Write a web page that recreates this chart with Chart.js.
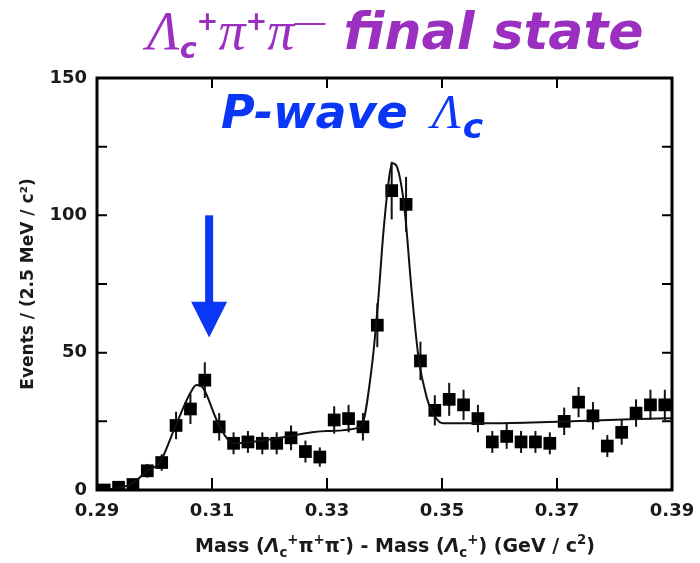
<!DOCTYPE html>
<html>
<head>
<meta charset="utf-8">
<script src="https://cdn.jsdelivr.net/npm/chart.js@4.4.1/dist/chart.umd.min.js"></script>
<style>
  body { margin: 0; background: #fff; }
  #wrap { position: relative; width: 700px; height: 563px; }
  #myChart { position: absolute; left: 0; top: 0; }
  .ttl { position: absolute; white-space: nowrap; font-family: "DejaVu Sans", sans-serif; font-weight: bold; font-style: italic; line-height: 1; }
  .gr { font-family: "Liberation Serif", serif; font-style: italic; font-weight: normal; }
  .ttl sub, .ttl sup { line-height: 0; }
  #title1 { left: 147px; top: 4px; font-size: 52px; color: #9b30c0; }
  #title1 .gr { font-size: 54px; }
  #title1 sub { font-size: 0.55em; vertical-align: -0.3em; }
  #title1 sup { font-size: 0.5em; vertical-align: 0.75em; font-style: normal; }
  #title1 .mn { font-family: "Liberation Sans", sans-serif; font-weight: normal; font-size: 0.6em; vertical-align: 0.55em; }
  #title2 { left: 221px; top: 88px; font-size: 46px; color: #0a36f5; }
  #title2 .gr { font-size: 48px; margin-left: 24px; }
  #title2 sub { font-size: 0.75em; vertical-align: -0.3em; margin-left: 2px; }
  #xtitle { position: absolute; top: 536px; left: 395px; transform: translateX(-50%); line-height: 1;
            font-family: "DejaVu Sans", sans-serif; font-weight: bold; font-size: 19px; color: #1a1a1a; white-space: nowrap; }
  #xtitle sub, #xtitle sup { line-height: 0; font-size: 0.7em; }
  #xtitle sub { vertical-align: -0.35em; }
  #xtitle sup { vertical-align: 0.6em; }
</style>
</head>
<body>
<div id="wrap">
  <canvas id="myChart" width="700" height="563"></canvas>
  <div id="title1" class="ttl"><span class="gr">Λ</span><sub>c</sub><sup>+</sup><span class="gr">π</span><sup>+</sup><span class="gr">π</span><span class="mn">—</span>&nbsp;final state</div>
  <div id="title2" class="ttl">P-wave<span class="gr">Λ</span><sub>c</sub></div>
  <div id="xtitle">Mass (<i>Λ</i><sub>c</sub><sup>+</sup>π<sup>+</sup>π<sup>-</sup>) - Mass (<i>Λ</i><sub>c</sub><sup>+</sup>) (GeV / c<sup>2</sup>)</div>
</div>
<script>
const ctx = document.getElementById('myChart').getContext('2d');

// bin centres (GeV/c^2), 2.5 MeV bins
const binMass = [0.29125, 0.29375, 0.29625, 0.29875, 0.30125, 0.30375, 0.30625, 0.30875, 0.31125, 0.31375,
                 0.31625, 0.31875, 0.32125, 0.32375, 0.32625, 0.32875, 0.33125, 0.33375, 0.33625, 0.33875,
                 0.34125, 0.34375, 0.34625, 0.34875, 0.35125, 0.35375, 0.35625, 0.35875, 0.36125, 0.36375,
                 0.36625, 0.36875, 0.37125, 0.37375, 0.37625, 0.37875, 0.38125, 0.38375, 0.38625, 0.38875];
const events = [0, 1, 2, 7, 10, 23.5, 29.5, 40, 23, 17,
                17.5, 17, 17, 19, 14, 12, 25.5, 26, 23, 60,
                109, 104, 47, 29, 33, 31, 26, 17.5, 19.5, 17.5,
                17.5, 17, 25, 32, 27, 16, 21, 28, 31, 31];
const errors = [1, 1, 1.5, 2.5, 3, 5, 5.5, 6.5, 5, 4,
                4, 4, 4, 4.5, 4, 3.5, 5, 5, 5, 8,
                10.5, 10, 7, 5.5, 6, 5.5, 5, 4, 4.5, 4,
                4, 4, 5, 5.5, 5, 4, 4.5, 5, 5.5, 5.5];

// fit curve
const fitMass = [0.29, 0.2934, 0.2960, 0.2986, 0.3010, 0.3036, 0.3062, 0.3073, 0.3085, 0.3108,
                 0.3126, 0.3137, 0.3200, 0.3300, 0.3359, 0.3378, 0.3389, 0.3398, 0.3407, 0.3413,
                 0.3421, 0.3430, 0.3436, 0.3447, 0.3459, 0.3473, 0.3488, 0.3502, 0.3595, 0.3711,
                 0.3827, 0.39];
const fitValue = [0, 0.6, 2.2, 6.7, 10.3, 23, 35.2, 38.2, 37, 25.5,
                  18.8, 17, 18.4, 21.5, 23, 45, 69, 93.6, 112, 119,
                  118, 110, 100, 73, 48.5, 34, 26.7, 24.3, 24.3, 24.9,
                  25.8, 26.1];

const xTicks = [0.29, 0.31, 0.33, 0.35, 0.37, 0.39];
const yTicks = [0, 50, 100, 150];
const yMinorTicks = [25, 75, 125];

// arrow marking the P-wave state
const arrowMass = 0.3095;
const arrowTop = 100;
const arrowHeadStart = 68.5;
const arrowTip = 55.5;

const frameAndMarks = {
    id: 'frameAndMarks',
    beforeDatasetsDraw(chart) {
        // error bars
        const c = chart.ctx, xs = chart.scales.x, ys = chart.scales.y;
        c.save();
        c.strokeStyle = '#111';
        c.lineWidth = 2;
        binMass.forEach((m, i) => {
            const px = xs.getPixelForValue(m);
            c.beginPath();
            c.moveTo(px, ys.getPixelForValue(Math.max(0, events[i] - errors[i])));
            c.lineTo(px, ys.getPixelForValue(events[i] + errors[i]));
            c.stroke();
        });
        c.restore();
    },
    afterDraw(chart) {
        const c = chart.ctx, a = chart.chartArea, xs = chart.scales.x, ys = chart.scales.y;
        c.save();
        c.strokeStyle = '#000';
        c.lineWidth = 3;
        c.strokeRect(a.left, a.top, a.right - a.left, a.bottom - a.top);
        c.lineWidth = 2;
        c.beginPath();
        xTicks.slice(1, -1).forEach(v => {
            const px = xs.getPixelForValue(v);
            c.moveTo(px, a.bottom); c.lineTo(px, a.bottom - 12);
            c.moveTo(px, a.top); c.lineTo(px, a.top + 10);
        });
        yTicks.slice(1, -1).concat(yMinorTicks).forEach(v => {
            const py = ys.getPixelForValue(v);
            c.moveTo(a.left, py); c.lineTo(a.left + 10, py);
            c.moveTo(a.right, py); c.lineTo(a.right - 10, py);
        });
        c.stroke();

        // arrow
        const ax = xs.getPixelForValue(arrowMass);
        const yTop = ys.getPixelForValue(arrowTop);
        const yHead = ys.getPixelForValue(arrowHeadStart);
        const yTip = ys.getPixelForValue(arrowTip);
        c.fillStyle = '#0a36f5';
        c.fillRect(ax - 4, yTop, 8, yHead - yTop + 1);
        c.beginPath();
        c.moveTo(ax - 18, yHead);
        c.lineTo(ax + 18, yHead);
        c.lineTo(ax, yTip);
        c.closePath();
        c.fill();
        c.restore();
    }
};

const myChart = new Chart(ctx, {
    type: 'scatter',
    data: {
        datasets: [{
            label: 'Fit',
            type: 'line',
            data: fitMass.map((m, i) => ({ x: m, y: fitValue[i] })),
            borderColor: '#111',
            borderWidth: 2,
            pointRadius: 0,
            cubicInterpolationMode: 'monotone',
            fill: false
        }, {
            label: 'Data',
            data: binMass.map((m, i) => ({ x: m, y: events[i] })),
            pointStyle: 'rect',
            pointRadius: 9,
            backgroundColor: '#000',
            borderColor: '#000',
            borderWidth: 0
        }]
    },
    options: {
        responsive: false,
        animation: false,
        layout: { padding: { left: 0, top: 78, right: 28, bottom: 0 } },
        plugins: {
            legend: { display: false },
            tooltip: { enabled: false }
        },
        scales: {
            x: {
                type: 'linear',
                min: 0.29,
                max: 0.39,
                afterBuildTicks: s => { s.ticks = xTicks.map(v => ({ value: v })); },
                afterFit: s => { s.height = 73; s.paddingLeft = 0; s.paddingRight = 0; },
                grid: { display: false, drawTicks: false },
                border: { display: false },
                ticks: {
                    padding: 11,
                    color: '#1a1a1a',
                    font: { family: 'DejaVu Sans', size: 18, weight: 'bold' },
                    callback: v => v.toFixed(2)
                }
            },
            y: {
                min: 0,
                max: 150,
                afterBuildTicks: s => { s.ticks = yTicks.map(v => ({ value: v })); },
                afterFit: s => { s.width = 97; s.paddingTop = 0; s.paddingBottom = 0; },
                grid: { display: false, drawTicks: false },
                border: { display: false },
                ticks: {
                    padding: 10,
                    color: '#1a1a1a',
                    font: { family: 'DejaVu Sans', size: 18, weight: 'bold' }
                },
                title: {
                    display: true,
                    text: 'Events / (2.5 MeV / c²)',
                    color: '#1a1a1a',
                    padding: { top: 18, bottom: 0 },
                    font: { family: 'DejaVu Sans', size: 17, weight: 'bold' }
                }
            }
        }
    },
    plugins: [frameAndMarks]
});
</script>
</body>
</html>
